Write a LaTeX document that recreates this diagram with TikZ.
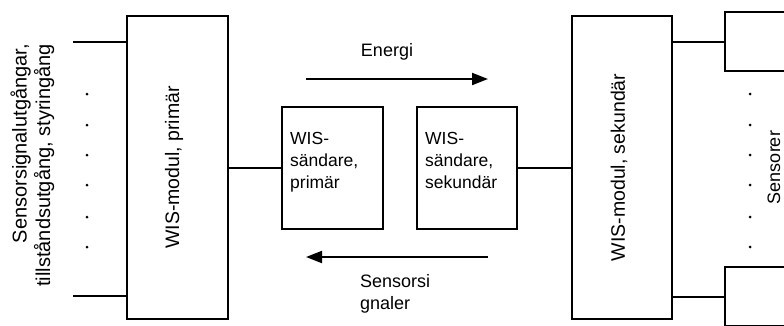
\documentclass[tikz,border=0pt]{standalone}
\usepackage{fontspec}
\setmainfont{Liberation Sans}
\usetikzlibrary{arrows.meta}
\begin{document}
\begin{tikzpicture}[x=1pt,y=-1pt,
  every node/.style={font=\fontsize{18}{21.7}\selectfont},
  box/.style={draw,line width=2pt,inner sep=0pt},
  wire/.style={line width=2pt},
  flow/.style={line width=2pt,-{Triangle[length=16pt,width=12pt]}},
  dotmark/.style={circle,fill,inner sep=0pt,minimum size=3pt},
  lbl/.style={inner sep=0pt,align=left},
  modtext/.style={rotate=90,inner sep=0pt,font=\fontsize{19.5}{23}\selectfont},
  txtext/.style={lbl,font=\fontsize{17.5}{21.7}\selectfont}]
\useasboundingbox (0,0) rectangle (784,325);
% boxes
\node[box,minimum width=101pt,minimum height=303pt] (lmod) at (177.5,167.5) {};
\node[modtext] (lmodt) at (174,167.5) {WIS-modul, primär};
\node[box,minimum width=101pt,minimum height=122pt] (ptx) at (332.5,168) {};
\node[box,minimum width=100pt,minimum height=122pt] (stx) at (467,168) {};
\node[box,minimum width=100pt,minimum height=303pt] (rmod) at (622,167.5) {};
\node[modtext] (rmodt) at (619,167.5) {WIS-modul, sekundär};
\node[box,minimum width=61pt,minimum height=59pt] (s1) at (755.5,41.5) {};
\node[box,minimum width=61pt,minimum height=59pt] (s2) at (755.5,296.5) {};
% transmitter labels
\node[txtext,anchor=base west] (ptxt) at (290,188.3) {WIS-\\sändare,\\primär};
\node[txtext,anchor=base west] (stxt) at (425,188.3) {WIS-\\sändare,\\sekundär};
% left side
\coordinate (l1) at (73,42);
\coordinate (l2) at (73,296);
\draw[wire] (l1) -- (l1 -| lmod.west);
\draw[wire] (l2) -- (l2 -| lmod.west);
\node[rotate=90,anchor=base east,align=right,inner sep=0pt,font=\fontsize{20}{23.4}\selectfont] (ltxt) at (50,44) {Sensorsignalutgångar,\\tillståndsutgång, styringång};
% middle wires
\draw[wire] (lmod.east |- ptx.west) -- (ptx.west);
\draw[wire] (stx.east) -- (rmod.west |- stx.east);
% right side
\draw[wire] (rmod.east |- s1.west) -- (s1.west);
\draw[wire] (rmod.east |- s2.west) -- (s2.west);
\node[rotate=90,anchor=base,inner sep=0pt] (stxt2) at (780,167.5) {Sensorer};
% dots
\foreach \yy [count=\i] in {94,125,155,185,217,247}{
  \node[dotmark] (ld\i) at (87,\yy) {};
  \node[dotmark] (rd\i) at (750,\yy) {};
}
% arrows
\coordinate (ea) at (306,79);
\coordinate (eb) at (488,79);
\draw[flow] (ea) -- (eb);
\node (etxt) at (387,52) {Energi};
\coordinate (sa) at (488,257);
\coordinate (sb) at (306,257);
\draw[flow] (sa) -- (sb);
\node[lbl,anchor=base west] (sgtxt) at (360,309) {Sensorsi\\gnaler};
\end{tikzpicture}
\end{document}
